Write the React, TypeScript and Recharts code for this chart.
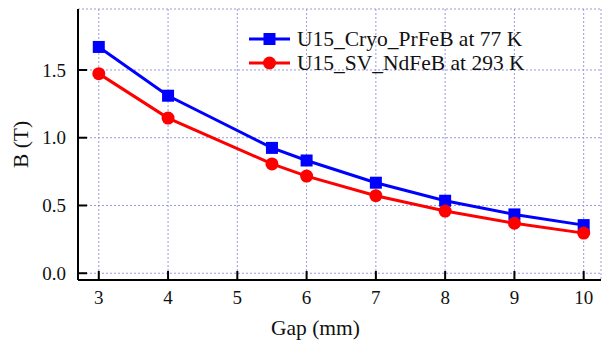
import { CartesianGrid, Legend, Line, LineChart, XAxis, YAxis } from 'recharts'

const gaps = [3, 4, 5.5, 6, 7, 8, 9, 10]
const cryoPrFeB = [1.67, 1.31, 0.925, 0.832, 0.668, 0.535, 0.434, 0.355]
const svNdFeB = [1.473, 1.145, 0.807, 0.717, 0.572, 0.459, 0.369, 0.296]
const seriesNames = ['U15_Cryo_PrFeB at 77 K', 'U15_SV_NdFeB at 293 K']
const xTicks = [3, 4, 5, 6, 7, 8, 9, 10]
const yTicks = [0, 0.5, 1.0, 1.5]

const data = gaps.map((g, i) => ({ gap: g, cryo: cryoPrFeB[i], sv: svNdFeB[i] }))

const FONT = '"Liberation Serif", "Times New Roman", serif'
const BLUE = '#0000ff'
const RED = '#ff0000'

function SquareDot(props: any) {
  const { cx, cy } = props
  if (cx == null || cy == null) return null
  return <rect x={cx - 6} y={cy - 6} width={12} height={12} fill={BLUE} />
}

function CircleDot(props: any) {
  const { cx, cy } = props
  if (cx == null || cy == null) return null
  return <circle cx={cx} cy={cy} r={6.5} fill={RED} />
}

function LegendBox() {
  const rows = [
    { name: seriesNames[0], color: BLUE, square: true },
    { name: seriesNames[1], color: RED, square: false },
  ]
  return (
    <div style={{ fontFamily: FONT, fontSize: 21.5, color: '#111' }}>
      {rows.map((r) => (
        <div key={r.name} style={{ display: 'flex', alignItems: 'center', height: 24, lineHeight: '24px' }}>
          <svg width={42} height={24} style={{ marginRight: 6 }}>
            <line x1={0} y1={12} x2={41} y2={12} stroke={r.color} strokeWidth={3} />
            {r.square ? (
              <rect x={14.5} y={6} width={12} height={12} fill={r.color} />
            ) : (
              <circle cx={20.5} cy={12} r={6.5} fill={r.color} />
            )}
          </svg>
          <span style={{ whiteSpace: 'nowrap' }}>{r.name}</span>
        </div>
      ))}
    </div>
  )
}

export default function App() {
  const tickStyle = { fontFamily: FONT, fontSize: 19, fill: '#111' }
  const labelStyle = { fontFamily: FONT, fontSize: 21.5, fill: '#111' }
  return (
    <div style={{ position: 'absolute', left: 0, top: 0, width: 602, height: 340, background: '#fff', fontFamily: FONT }}>
      <LineChart width={602} height={340} data={data} margin={{ top: 9, right: 1, bottom: 0, left: 0 }}>
        <CartesianGrid stroke="#9a9ae0" strokeDasharray="2 2" strokeWidth={1} />
        <XAxis
          dataKey="gap"
          type="number"
          domain={[2.7, 10.25]}
          ticks={xTicks}
          allowDataOverflow
          height={60}
          axisLine={{ stroke: '#000', strokeWidth: 2 }}
          tickLine={{ stroke: '#000', strokeWidth: 2 }}
          tickSize={-9}
          tickMargin={20}
          tick={tickStyle}
          label={{ value: 'Gap (mm)', position: 'insideBottom', offset: 5, dx: -24, style: labelStyle }}
        />
        <XAxis
          xAxisId="top"
          orientation="top"
          type="number"
          domain={[2.7, 10.25]}
          ticks={xTicks}
          allowDataOverflow
          height={0}
          axisLine={{ stroke: '#000', strokeWidth: 2 }}
          tickLine={{ stroke: '#000', strokeWidth: 2 }}
          tickSize={-9}
          tick={false}
        />
        <YAxis
          type="number"
          domain={[-0.05, 1.95]}
          ticks={yTicks}
          allowDataOverflow
          width={78}
          axisLine={{ stroke: '#000', strokeWidth: 2 }}
          tickLine={{ stroke: '#000', strokeWidth: 2 }}
          tickSize={-9}
          tickMargin={21}
          tick={tickStyle}
          tickFormatter={(v: number) => v.toFixed(1)}
          label={{ value: 'B (T)', angle: -90, position: 'insideLeft', offset: 20, style: { ...labelStyle, textAnchor: 'middle' } }}
        />
        <YAxis
          yAxisId="right"
          orientation="right"
          type="number"
          domain={[-0.05, 1.95]}
          ticks={yTicks}
          allowDataOverflow
          width={0}
          axisLine={{ stroke: '#000', strokeWidth: 2 }}
          tickLine={{ stroke: '#000', strokeWidth: 2 }}
          tickSize={-9}
          tick={false}
        />
        <Legend
          layout="vertical"
          align="center"
          verticalAlign="middle"
          content={() => <LegendBox />}
          wrapperStyle={{ position: 'absolute', left: 249, top: 27, width: 'auto' }}
        />
        <Line
          dataKey="cryo"
          name={seriesNames[0]}
          stroke={BLUE}
          strokeWidth={3}
          dot={<SquareDot />}
          activeDot={false}
          isAnimationActive={false}
        />
        <Line
          dataKey="sv"
          name={seriesNames[1]}
          stroke={RED}
          strokeWidth={3}
          dot={<CircleDot />}
          activeDot={false}
          isAnimationActive={false}
        />
      </LineChart>
    </div>
  )
}
